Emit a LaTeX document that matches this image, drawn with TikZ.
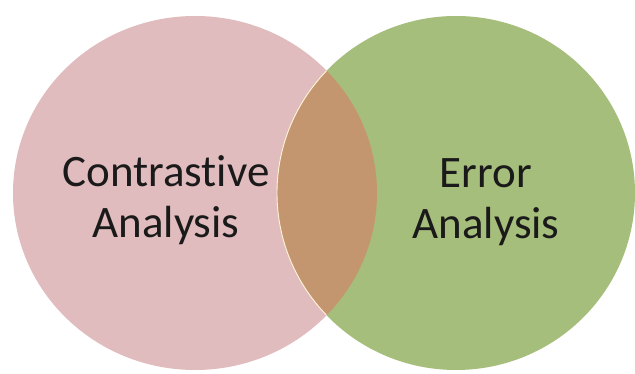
\documentclass[tikz,border=0pt]{standalone}
\usepackage{fontspec}
\newfontfamily\labelfont[Ligatures=NoCommon]{Carlito}
\usepackage[HTML]{xcolor}
\usepackage{tikz}
\usetikzlibrary{positioning}
\definecolor{caPink}{HTML}{E1BCBE}
\definecolor{eaGreen}{HTML}{A6BE7B}
\definecolor{lensBrown}{HTML}{C4966F}
\definecolor{rimCream}{HTML}{FFF6D8}
\tikzset{vennlabel/.style={align=center, inner sep=0pt, text=black!90,
  font=\labelfont\fontsize{45}{51}\selectfont}}

\begin{document}
\begin{tikzpicture}[x=1pt,y=1pt]
\useasboundingbox (0,0) rectangle (635,374);
% two overlapping circles
\coordinate (CA) at (195,181);
\coordinate (EA) at (456,181);

\fill[caPink] (CA) ellipse [x radius=182, y radius=177];
\fill[eaGreen] (EA) ellipse [x radius=179, y radius=177];

% overlap
\begin{scope}
\clip (CA) ellipse [x radius=182, y radius=177];
\fill[lensBrown] (EA) ellipse [x radius=179, y radius=177];
\end{scope}
\begin{scope}
\clip (CA) ellipse [x radius=182, y radius=177];
\draw[rimCream, line width=0.9pt] (EA) ellipse [x radius=179, y radius=177];
\end{scope}

\node[vennlabel] (ca) at (166,174) {Contrastive\\Analysis};
\node[vennlabel] (ea) at (486,172) {Error\\Analysis};
\end{tikzpicture}
\end{document}
